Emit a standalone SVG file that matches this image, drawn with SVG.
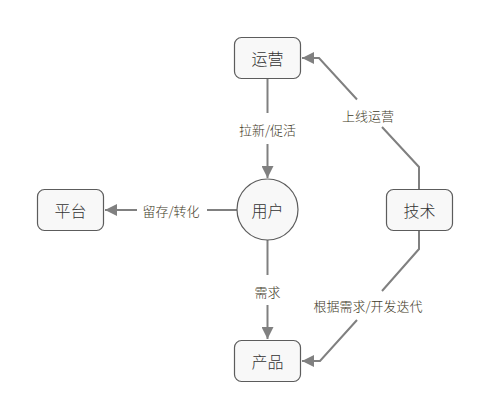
<svg xmlns="http://www.w3.org/2000/svg" width="491" height="419" viewBox="0 0 491 419">
<style>
.node{fill:#f8f8f8;stroke:#5c5c5c;stroke-width:1.2}
.nt{font-family:"Noto Sans CJK SC","Liberation Sans",sans-serif;font-size:16px;font-weight:300;fill:#333;text-anchor:middle;dominant-baseline:central}
.edge{fill:none;stroke:#808080;stroke-width:2}
.lt{font-family:"Noto Sans CJK SC","Liberation Sans",sans-serif;font-size:13px;font-weight:300;fill:#3f3b28;text-anchor:middle;dominant-baseline:central}
</style>
<defs>
<marker id="ah" viewBox="0 0 10 10" refX="10" refY="5" markerWidth="6" markerHeight="6" markerUnits="strokeWidth" orient="auto">
<path d="M0,0 L10,5 L0,10 Z" fill="#808080"/>
</marker>
</defs>
<rect width="491" height="419" fill="#fff"/>
<g id="connectors">
<g id="e-yunying-yonghu">
<path class="edge" d="M267.5,79 V113"/>
<path class="edge" d="M267.5,144 V178" marker-end="url(#ah)"/>
<text class="lt" x="267.5" y="129">拉新/促活</text>
</g>
<g id="e-yonghu-pingtai">
<path class="edge" d="M237,210 H207"/>
<path class="edge" d="M137,210 H105" marker-end="url(#ah)"/>
<text class="lt" x="171" y="210">留存/转化</text>
</g>
<g id="e-yonghu-chanpin">
<path class="edge" d="M267.5,240 V275"/>
<path class="edge" d="M267.5,305 V339" marker-end="url(#ah)"/>
<text class="lt" x="267.5" y="291">需求</text>
</g>
<g id="e-jishu-yunying">
<path class="edge" d="M419,189 V167 L382,127"/>
<path class="edge" d="M357,99.5 L319,58 H302" marker-end="url(#ah)"/>
<text class="lt" x="368" y="115">上线运营</text>
</g>
<g id="e-jishu-chanpin">
<path class="edge" d="M419,230 V249 L382,291"/>
<path class="edge" d="M357,320 L320,361 H302" marker-end="url(#ah)"/>
<text class="lt" x="368" y="305">根据需求/开发迭代</text>
</g>
</g>
<g id="yunying"><rect class="node" x="234.5" y="37.5" width="66" height="41" rx="7"/><text class="nt" x="267.5" y="58">运营</text></g>
<g id="yonghu"><circle class="node" cx="267.5" cy="209.5" r="30.5"/><text class="nt" x="267.5" y="210">用户</text></g>
<g id="pingtai"><rect class="node" x="37.5" y="189.5" width="66" height="41" rx="7"/><text class="nt" x="70.5" y="210">平台</text></g>
<g id="jishu"><rect class="node" x="386.5" y="189.5" width="66" height="41" rx="7"/><text class="nt" x="419.5" y="210">技术</text></g>
<g id="chanpin"><rect class="node" x="234.5" y="340.5" width="66" height="41" rx="7"/><text class="nt" x="267.5" y="361">产品</text></g>
</svg>
